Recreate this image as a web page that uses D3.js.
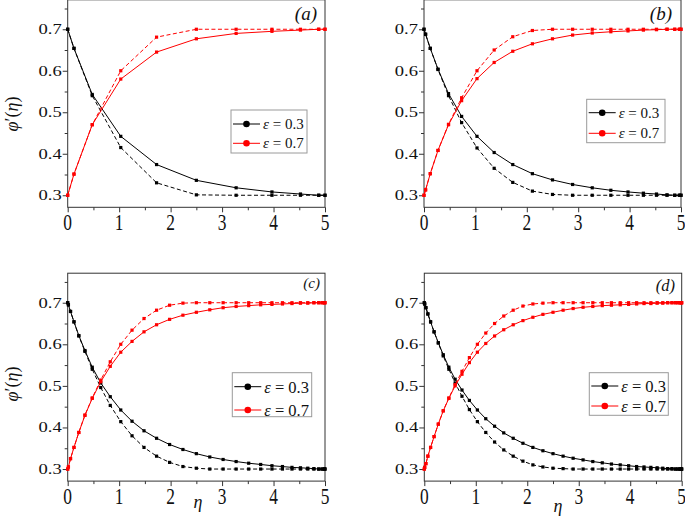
<!DOCTYPE html>
<html><head><meta charset="utf-8">
<script src="https://cdn.jsdelivr.net/npm/d3@7"></script>
<style>
body{margin:0;background:#fff;}
svg{display:block;}
text{font-family:"Liberation Serif","DejaVu Serif",serif;}
</style></head><body>
<svg id="chart" width="685" height="520" font-family="Liberation Serif, serif"></svg>
<script>
// ---------- data ----------
const xTickValues = [0, 1, 2, 3, 4, 5];
const yTickValues = [0.3, 0.4, 0.5, 0.6, 0.7];
const xTickLabels = ["0", "1", "2", "3", "4", "5"];
const yTickLabels = ["0.3", "0.4", "0.5", "0.6", "0.7"];
const legendLabels = ["0.3", "0.7"];
const panelLetters = ["(a)", "(b)", "(c)", "(d)"];

// panel (a)
const etaA = [0, 0.122, 0.477, 1.031, 1.727, 2.5, 3.273, 3.969, 4.523, 4.878, 5];
const bsA = [0.700, 0.654, 0.543, 0.442, 0.374, 0.336, 0.318, 0.308, 0.303, 0.300, 0.300];
const bdA = [0.700, 0.654, 0.540, 0.415, 0.330, 0.301, 0.300, 0.300, 0.300, 0.300, 0.300];
const rsA = [0.300, 0.351, 0.470, 0.580, 0.645, 0.677, 0.690, 0.695, 0.698, 0.700, 0.700];
const rdA = [0.300, 0.351, 0.470, 0.600, 0.681, 0.700, 0.700, 0.700, 0.700, 0.700, 0.700];

// panel (b)
const etaB = [0, 0.031, 0.122, 0.272, 0.477, 0.732, 1.031, 1.365, 1.727, 2.109, 2.5, 2.891, 3.273, 3.635, 3.969, 4.268, 4.523, 4.728, 4.878, 4.969, 5];
const bsB = [0.700, 0.688, 0.654, 0.604, 0.545, 0.490, 0.442, 0.403, 0.374, 0.352, 0.337, 0.326, 0.318, 0.312, 0.308, 0.305, 0.303, 0.301, 0.300, 0.300, 0.300];
const bdB = [0.700, 0.688, 0.654, 0.603, 0.540, 0.475, 0.414, 0.365, 0.331, 0.310, 0.302, 0.300, 0.300, 0.300, 0.300, 0.300, 0.300, 0.300, 0.300, 0.300, 0.300];
const rsB = [0.300, 0.313, 0.352, 0.408, 0.470, 0.528, 0.581, 0.620, 0.647, 0.665, 0.677, 0.686, 0.691, 0.694, 0.696, 0.698, 0.699, 0.700, 0.700, 0.700, 0.700];
const rdB = [0.300, 0.313, 0.352, 0.408, 0.471, 0.535, 0.600, 0.650, 0.682, 0.697, 0.700, 0.700, 0.700, 0.700, 0.700, 0.700, 0.700, 0.700, 0.700, 0.700, 0.700];

// panel (c)
const etaC = [0, 0.014, 0.055, 0.122, 0.216, 0.335, 0.477, 0.642, 0.827, 1.031, 1.25, 1.483, 1.727, 1.980, 2.239, 2.5, 2.761, 3.020, 3.273, 3.517, 3.75, 3.969, 4.173, 4.358, 4.523, 4.665, 4.784, 4.878, 4.945, 4.986, 5];
const bsC = [0.700, 0.695, 0.679, 0.654, 0.621, 0.585, 0.545, 0.507, 0.474, 0.442, 0.415, 0.392, 0.374, 0.359, 0.347, 0.337, 0.329, 0.323, 0.318, 0.314, 0.311, 0.308, 0.306, 0.304, 0.303, 0.302, 0.301, 0.300, 0.300, 0.300, 0.300];
const bdC = [0.700, 0.695, 0.679, 0.654, 0.620, 0.583, 0.540, 0.496, 0.453, 0.414, 0.380, 0.352, 0.331, 0.316, 0.306, 0.302, 0.300, 0.300, 0.300, 0.300, 0.300, 0.300, 0.300, 0.300, 0.300, 0.300, 0.300, 0.300, 0.300, 0.300, 0.300];
const rsC = [0.300, 0.305, 0.325, 0.352, 0.388, 0.429, 0.470, 0.510, 0.547, 0.581, 0.607, 0.630, 0.647, 0.660, 0.670, 0.677, 0.683, 0.688, 0.691, 0.693, 0.695, 0.696, 0.697, 0.698, 0.699, 0.699, 0.700, 0.700, 0.700, 0.700, 0.700];
const rdC = [0.300, 0.305, 0.325, 0.352, 0.388, 0.430, 0.471, 0.514, 0.558, 0.600, 0.634, 0.662, 0.682, 0.694, 0.699, 0.700, 0.700, 0.700, 0.700, 0.700, 0.700, 0.700, 0.700, 0.700, 0.700, 0.700, 0.700, 0.700, 0.700, 0.700, 0.700];

// panel (d)
const etaD = [0, 0.008, 0.031, 0.069, 0.122, 0.190, 0.272, 0.368, 0.477, 0.599, 0.732, 0.876, 1.031, 1.194, 1.365, 1.543, 1.727, 1.916, 2.109, 2.304, 2.5, 2.696, 2.891, 3.084, 3.273, 3.457, 3.635, 3.806, 3.969, 4.124, 4.268, 4.401, 4.523, 4.632, 4.728, 4.810, 4.878, 4.931, 4.969, 4.992, 5];
const bsD = [0.700, 0.697, 0.688, 0.673, 0.654, 0.630, 0.604, 0.575, 0.545, 0.516, 0.490, 0.465, 0.442, 0.421, 0.403, 0.387, 0.374, 0.362, 0.352, 0.344, 0.337, 0.331, 0.326, 0.322, 0.318, 0.315, 0.312, 0.310, 0.308, 0.306, 0.305, 0.304, 0.303, 0.302, 0.301, 0.301, 0.300, 0.300, 0.300, 0.300, 0.300];
const bdD = [0.700, 0.697, 0.688, 0.673, 0.654, 0.630, 0.603, 0.572, 0.540, 0.507, 0.475, 0.443, 0.414, 0.388, 0.365, 0.346, 0.331, 0.319, 0.310, 0.305, 0.302, 0.301, 0.300, 0.300, 0.300, 0.300, 0.300, 0.300, 0.300, 0.300, 0.300, 0.300, 0.300, 0.300, 0.300, 0.300, 0.300, 0.300, 0.300, 0.300, 0.300];
const rsD = [0.300, 0.304, 0.313, 0.331, 0.352, 0.378, 0.408, 0.440, 0.470, 0.500, 0.528, 0.556, 0.581, 0.602, 0.620, 0.635, 0.647, 0.657, 0.665, 0.672, 0.677, 0.682, 0.686, 0.689, 0.691, 0.693, 0.694, 0.695, 0.696, 0.697, 0.698, 0.698, 0.699, 0.699, 0.700, 0.700, 0.700, 0.700, 0.700, 0.700, 0.700];
const rdD = [0.300, 0.304, 0.313, 0.331, 0.352, 0.378, 0.408, 0.440, 0.471, 0.503, 0.535, 0.568, 0.600, 0.627, 0.650, 0.668, 0.682, 0.692, 0.697, 0.699, 0.700, 0.700, 0.700, 0.700, 0.700, 0.700, 0.700, 0.700, 0.700, 0.700, 0.700, 0.700, 0.700, 0.700, 0.700, 0.700, 0.700, 0.700, 0.700, 0.700, 0.700];

// ---------- layout ----------
const RED = "#ff0000", BLACK = "#000000", AXIS = "#333333";
const layout = [
  {eta: etaA, bs: bsA, bd: bdA, rs: rsA, rd: rdA, x0: 67.7, x1: 325, top: -0.2, bottom: 207.3,
   legend: {x: 231, y: 110, w: 76, h: 43, r1: 124, r2: 143.3, fs: 15},
   letter: {x: 317, y: 20, fs: 19}, ylab: {x: 12, y: 114}, xlab: null},
  {eta: etaB, bs: bsB, bd: bdB, rs: rsB, rd: rdB, x0: 424, x1: 681, top: -0.2, bottom: 207.3,
   legend: {x: 586.7, y: 99.3, w: 78.3, h: 43.4, r1: 112.7, r2: 133.3, fs: 15},
   letter: {x: 672, y: 20, fs: 19}, ylab: null, xlab: null},
  {eta: etaC, bs: bsC, bd: bdC, rs: rsC, rd: rdC, x0: 67.7, x1: 325, top: 273.2, bottom: 481.1,
   legend: {x: 232.3, y: 372.7, w: 79.4, h: 44, r1: 386.7, r2: 410, fs: 16.5},
   letter: {x: 320, y: 288, fs: 15}, ylab: {x: 12, y: 384}, xlab: {x: 198, y: 508}},
  {eta: etaD, bs: bsD, bd: bdD, rs: rsD, rd: rdD, x0: 424.3, x1: 681.7, top: 273.2, bottom: 481.1,
   legend: {x: 589.3, y: 372.7, w: 79, h: 42.6, r1: 386, r2: 406, fs: 16.5},
   letter: {x: 675, y: 291, fs: 16.5}, ylab: null, xlab: {x: 558, y: 512}}
];

const svg = d3.select("#chart");
svg.append("rect").attr("width", 685).attr("height", 520).attr("fill", "#fff");

layout.forEach((p, i) => {
  const x = d3.scaleLinear().domain([0, 5]).range([p.x0, p.x1]);
  const y = d3.scaleLinear().domain([0.271, 0.771]).range([p.bottom, p.top]);
  const g = svg.append("g");

  // axes: major + minor ticks, outward
  const yMajor = d3.axisLeft(y).tickValues(yTickValues).tickSize(5).tickFormat("");
  const yMinor = d3.axisLeft(y).tickValues([0.35, 0.45, 0.55, 0.65, 0.75]).tickSize(3).tickFormat("");
  const xMajor = d3.axisBottom(x).tickValues(xTickValues).tickSize(5).tickFormat("");
  const xMinor = d3.axisBottom(x).tickValues([0.5, 1.5, 2.5, 3.5, 4.5]).tickSize(3).tickFormat("");
  [[yMajor, `translate(${p.x0},0)`], [yMinor, `translate(${p.x0},0)`],
   [xMajor, `translate(0,${p.bottom})`], [xMinor, `translate(0,${p.bottom})`]].forEach(([ax, tr]) => {
    const a = g.append("g").attr("transform", tr).call(ax);
    a.select(".domain").remove();
    a.selectAll("line").attr("stroke", AXIS);
  });

  // frame
  g.append("rect").attr("x", p.x0).attr("y", p.top)
    .attr("width", p.x1 - p.x0).attr("height", p.bottom - p.top)
    .attr("fill", "none").attr("stroke", AXIS).attr("stroke-width", 1);

  // tick labels
  yTickValues.forEach((v, k) => {
    g.append("text").text(yTickLabels[k])
      .attr("transform", `translate(${p.x0 - 6},${y(v)}) scale(1.28,1)`)
      .attr("text-anchor", "end").attr("dominant-baseline", "central")
      .attr("font-size", 14.5).attr("fill", "#111");
  });
  xTickValues.forEach((v, k) => {
    g.append("text").text(xTickLabels[k])
      .attr("transform", `translate(${x(v)},${p.bottom + 22.5}) scale(1,1.27)`)
      .attr("text-anchor", "middle")
      .attr("font-size", 17.4).attr("fill", "#111");
  });

  // series
  const series = [
    {vals: p.bs, color: BLACK, dash: null},
    {vals: p.bd, color: BLACK, dash: "4,2.5"},
    {vals: p.rs, color: RED, dash: null},
    {vals: p.rd, color: RED, dash: "4,2.5"}
  ];
  const line = d3.line().x(d => x(d[0])).y(d => y(d[1]));
  series.forEach(s => {
    const pts = p.eta.map((e, k) => [e, s.vals[k]]);
    g.append("path").attr("d", line(pts)).attr("fill", "none")
      .attr("stroke", s.color).attr("stroke-width", 1)
      .attr("stroke-dasharray", s.dash);
    g.selectAll(null).data(pts).enter().append("rect")
      .attr("x", d => x(d[0]) - 1.6).attr("y", d => y(d[1]) - 1.6)
      .attr("width", 3.2).attr("height", 3.2).attr("fill", s.color);
  });

  // legend
  const L = p.legend;
  g.append("rect").attr("x", L.x).attr("y", L.y).attr("width", L.w).attr("height", L.h)
    .attr("fill", "#fff").attr("stroke", "#9a9a9a").attr("stroke-width", 1);
  [[L.r1, BLACK, legendLabels[0]], [L.r2, RED, legendLabels[1]]].forEach(([ry, c, lab]) => {
    g.append("line").attr("x1", L.x + 2).attr("x2", L.x + 29).attr("y1", ry).attr("y2", ry)
      .attr("stroke", c).attr("stroke-width", 1);
    g.append("circle").attr("cx", L.x + 15.5).attr("cy", ry).attr("r", 3.3).attr("fill", c);
    const t = g.append("text").attr("x", L.x + 32).attr("y", ry).attr("dominant-baseline", "central")
      .attr("font-size", L.fs).attr("fill", "#111");
    t.append("tspan").attr("font-style", "italic").text("ε");
    t.append("tspan").text(" = " + lab);
  });

  // panel letter
  g.append("text").text(panelLetters[i]).attr("x", p.letter.x).attr("y", p.letter.y)
    .attr("text-anchor", "end").attr("font-style", "italic").attr("font-size", p.letter.fs).attr("fill", "#111");

  // axis titles
  if (p.ylab) {
    const t = g.append("text").attr("transform", `translate(${p.ylab.x},${p.ylab.y}) rotate(-90)`)
      .attr("text-anchor", "middle").attr("dominant-baseline", "central")
      .attr("font-size", 18).attr("font-style", "italic").attr("fill", "#111");
    t.append("tspan").text("φ");
    t.append("tspan").attr("font-style", "normal").text("′(");
    t.append("tspan").text("η");
    t.append("tspan").attr("font-style", "normal").text(")");
  }
  if (p.xlab) {
    g.append("text").text("η").attr("x", p.xlab.x).attr("y", p.xlab.y)
      .attr("text-anchor", "middle").attr("font-style", "italic").attr("font-size", 18).attr("fill", "#111");
  }
});
</script>
</body></html>
